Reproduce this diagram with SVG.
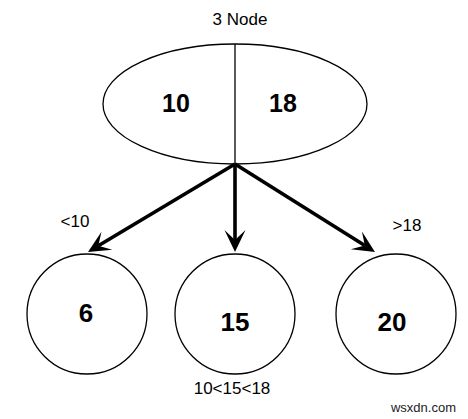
<svg xmlns="http://www.w3.org/2000/svg" width="468" height="419" viewBox="0 0 468 419">
<style>
.shape{fill:#fff;stroke:#000;stroke-width:1.3}
.big{font-family:"Liberation Sans",Arial,sans-serif;font-weight:bold;fill:#000;text-anchor:middle}
.lbl{font-family:"Liberation Sans",Arial,sans-serif;font-size:17px;fill:#000;text-anchor:middle}
.edge{fill:none;stroke:#000;stroke-width:3.6}
</style>
<defs>
<marker id="arr" viewBox="-10 -11 22 22" refX="0" refY="0" markerWidth="22" markerHeight="22" markerUnits="userSpaceOnUse" orient="auto" overflow="visible">
<path d="M12,0 L-10,-10.5 L0,0 L-10,10.5 Z" fill="#000"/>
</marker>
</defs>
<rect width="468" height="419" fill="#fff"/>
<text class="lbl" x="240" y="25">3 Node</text>
<g id="root">
<ellipse class="shape" cx="235" cy="104" rx="132" ry="60"/>
<line x1="235" y1="44" x2="235" y2="164" stroke="#000" stroke-width="1.3"/>
<text class="big" x="176" y="112" font-size="25">10</text>
<text class="big" x="283" y="112" font-size="25">18</text>
</g>
<g id="node6">
<circle class="shape" cx="87" cy="314" r="60"/>
<text class="big" x="86" y="322" font-size="26">6</text>
</g>
<g id="node15">
<circle class="shape" cx="235" cy="314" r="60"/>
<text class="big" x="235" y="331" font-size="26">15</text>
</g>
<g id="node20">
<circle class="shape" cx="396" cy="314" r="60"/>
<text class="big" x="392" y="331" font-size="26">20</text>
</g>
<g id="connectors">
<line class="edge" x1="235" y1="164" x2="98.3" y2="245.8" marker-end="url(#arr)"/>
<line class="edge" x1="235" y1="164" x2="235" y2="240" marker-end="url(#arr)"/>
<line class="edge" x1="235" y1="164" x2="364.8" y2="245.6" marker-end="url(#arr)"/>
</g>
<text class="lbl" x="75" y="227">&lt;10</text>
<text class="lbl" x="407" y="231">&gt;18</text>
<text class="lbl" x="232" y="394">10&lt;15&lt;18</text>
<text x="456" y="412" font-family="Liberation Sans,Arial,sans-serif" font-size="13" fill="#222" text-anchor="end">wsxdn.com</text>
</svg>
